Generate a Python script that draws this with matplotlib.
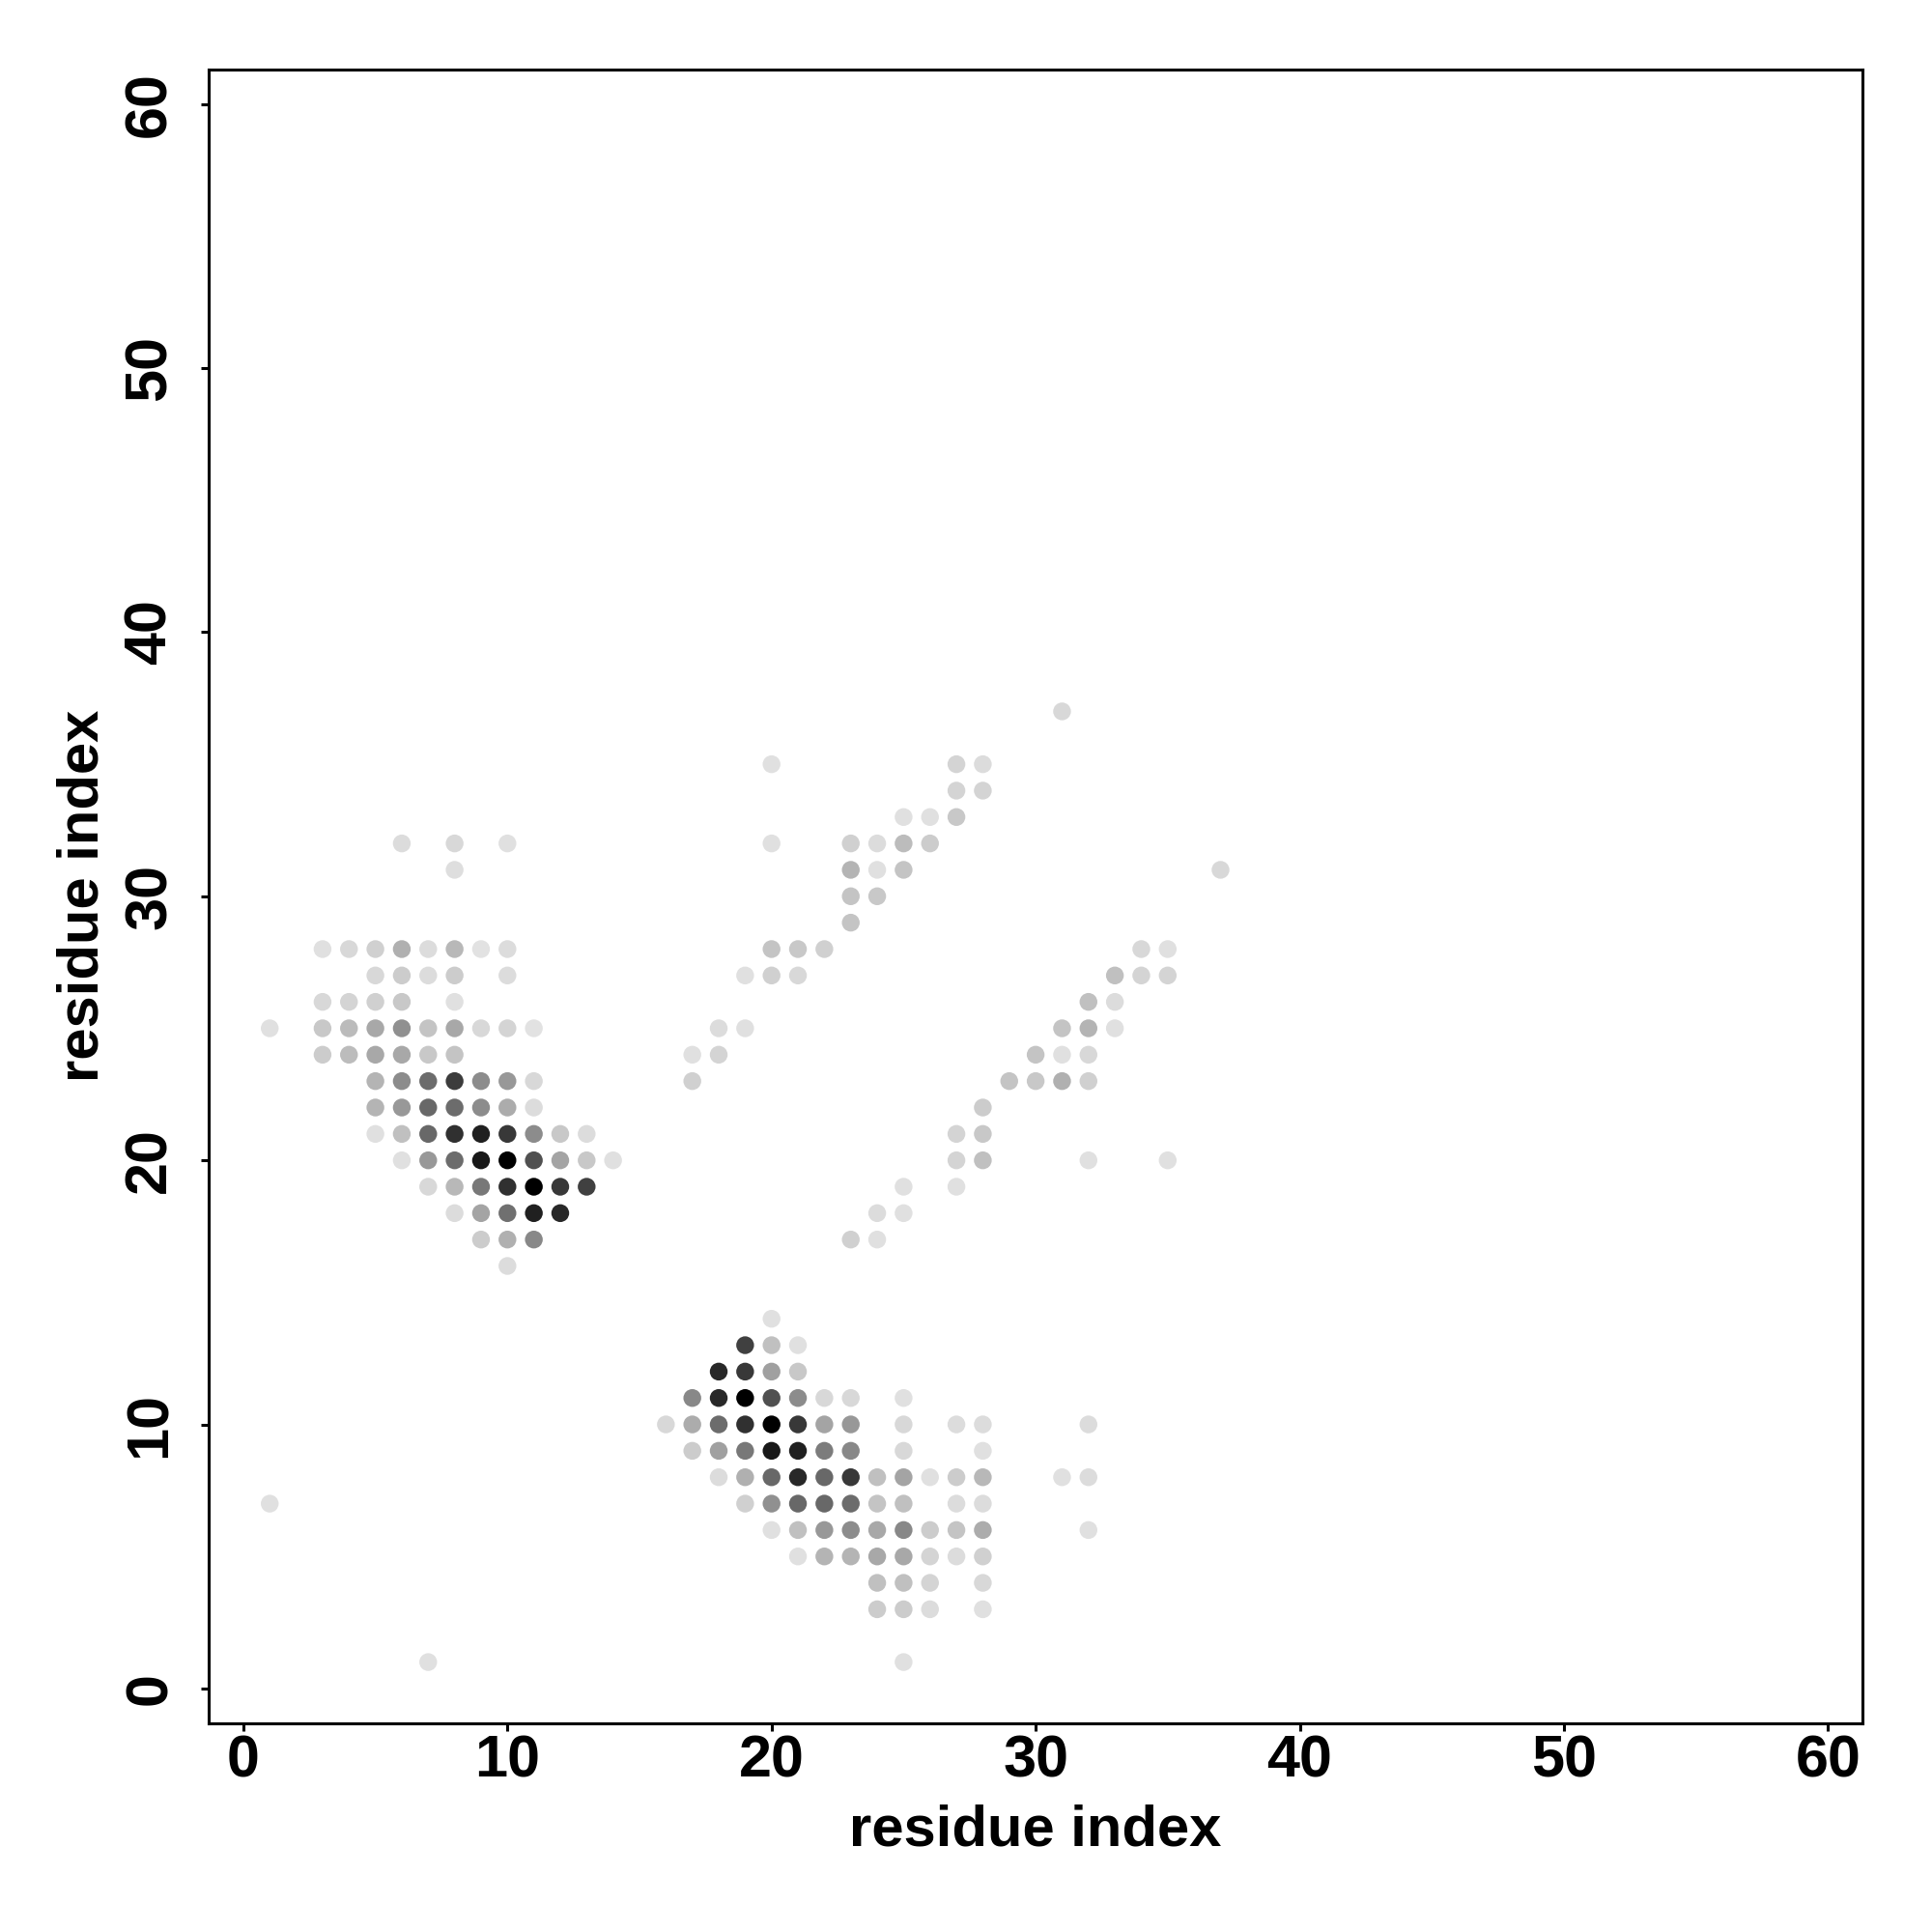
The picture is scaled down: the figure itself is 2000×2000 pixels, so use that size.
import matplotlib
matplotlib.use("Agg")
import matplotlib.pyplot as plt
import numpy as np

# contact map: residue i, residue j, grey level (0 = black, 255 = white)
# lower-left block (rows of j)
block_a_x = [6, 8, 10,
             8,
             3, 4, 5, 6, 7, 8, 9, 10,
             5, 6, 7, 8, 10,
             3, 4, 5, 6, 8,
             3, 4, 5, 6, 7, 8, 9, 10, 11,
             3, 4, 5, 6, 7, 8,
             5, 6, 7, 8, 9, 10, 11,
             5, 6, 7, 8, 9, 10, 11,
             5, 6, 7, 8, 9, 10, 11, 12, 13,
             6, 7, 8, 9, 10, 11, 12, 13, 14,
             7, 8, 9, 10, 11, 12, 13,
             8, 9, 10, 11, 12,
             9, 10, 11,
             10,
             1, 1, 7]
block_a_y = [32, 32, 32,
             31,
             28, 28, 28, 28, 28, 28, 28, 28,
             27, 27, 27, 27, 27,
             26, 26, 26, 26, 26,
             25, 25, 25, 25, 25, 25, 25, 25, 25,
             24, 24, 24, 24, 24, 24,
             23, 23, 23, 23, 23, 23, 23,
             22, 22, 22, 22, 22, 22, 22,
             21, 21, 21, 21, 21, 21, 21, 21, 21,
             20, 20, 20, 20, 20, 20, 20, 20, 20,
             19, 19, 19, 19, 19, 19, 19,
             18, 18, 18, 18, 18,
             17, 17, 17,
             16,
             25, 7, 1]
block_a_grey = [220, 216, 224,
                222,
                224, 216, 208, 176, 220, 184, 226, 220,
                216, 204, 220, 204, 220,
                216, 212, 208, 200, 224,
                200, 187, 168, 144, 196, 168, 216, 212, 226,
                204, 188, 168, 168, 200, 196,
                180, 140, 108, 60, 140, 152, 216,
                180, 152, 104, 108, 140, 172, 220,
                224, 192, 104, 48, 32, 56, 140, 200, 220,
                224, 152, 108, 24, 0, 80, 164, 200, 224,
                216, 184, 120, 48, 0, 56, 64,
                220, 164, 112, 32, 40,
                204, 176, 136,
                220,
                224, 224, 224]

# lower-right block
block_b_x = [20,
             19, 20, 21,
             18, 19, 20, 21,
             17, 18, 19, 20, 21, 22, 23, 25,
             16, 17, 18, 19, 20, 21, 22, 23, 25, 27, 28, 32,
             17, 18, 19, 20, 21, 22, 23, 25, 28,
             18, 19, 20, 21, 22, 23, 24, 25, 26, 27, 28, 31, 32,
             19, 20, 21, 22, 23, 24, 25, 27, 28,
             20, 21, 22, 23, 24, 25, 26, 27, 28, 32,
             21, 22, 23, 24, 25, 26, 27, 28,
             24, 25, 26, 28,
             24, 25, 26, 28,
             25]
block_b_y = [14,
             13, 13, 13,
             12, 12, 12, 12,
             11, 11, 11, 11, 11, 11, 11, 11,
             10, 10, 10, 10, 10, 10, 10, 10, 10, 10, 10, 10,
             9, 9, 9, 9, 9, 9, 9, 9, 9,
             8, 8, 8, 8, 8, 8, 8, 8, 8, 8, 8, 8, 8,
             7, 7, 7, 7, 7, 7, 7, 7, 7,
             6, 6, 6, 6, 6, 6, 6, 6, 6, 6,
             5, 5, 5, 5, 5, 5, 5, 5,
             4, 4, 4, 4,
             3, 3, 3, 3,
             1]
block_b_grey = [224,
                64, 192, 224,
                40, 56, 160, 200,
                136, 40, 0, 80, 140, 216, 216, 224,
                216, 172, 108, 48, 0, 56, 164, 152, 216, 220, 220, 220,
                204, 160, 120, 24, 32, 124, 136, 216, 224,
                220, 176, 104, 40, 104, 56, 192, 164, 224, 204, 184, 224, 220,
                208, 144, 104, 104, 108, 196, 192, 220, 220,
                224, 192, 152, 140, 168, 136, 204, 196, 172, 224,
                224, 180, 180, 168, 168, 212, 220, 208,
                192, 192, 212, 216,
                204, 204, 220, 224,
                224]

# diagonal bands
band_x = [31,
          20, 27, 28,
          27, 28,
          25, 26, 27,
          20, 23, 24, 25, 26,
          23, 24, 25, 37,
          23, 24,
          23,
          20, 21, 22, 34, 35,
          19, 20, 21, 33, 34, 35,
          32, 33,
          18, 19, 31, 32, 33,
          17, 18, 30, 31, 32,
          17, 29, 30, 31, 32,
          28,
          27, 28,
          27, 28, 32, 35,
          25, 27,
          24, 25,
          23, 24]
band_y = [37,
          35, 35, 35,
          34, 34,
          33, 33, 33,
          32, 32, 32, 32, 32,
          31, 31, 31, 31,
          30, 30,
          29,
          28, 28, 28, 28, 28,
          27, 27, 27, 27, 27, 27,
          26, 26,
          25, 25, 25, 25, 25,
          24, 24, 24, 24, 24,
          23, 23, 23, 23, 23,
          22,
          21, 21,
          20, 20, 20, 20,
          19, 19,
          18, 18,
          17, 17]
band_grey = [216,
             224, 212, 220,
             212, 212,
             224, 224, 200,
             224, 208, 220, 188, 204,
             180, 224, 196, 216,
             196, 200,
             196,
             196, 200, 208, 216, 224,
             224, 208, 216, 192, 212, 212,
             192, 220,
             220, 224, 196, 180, 224,
             224, 212, 196, 224, 216,
             208, 196, 200, 176, 208,
             204,
             212, 200,
             212, 192, 224, 224,
             224, 224,
             220, 224,
             208, 224]

ticks = [0, 10, 20, 30, 40, 50, 60]

plt.rcParams["font.family"] = ["Liberation Sans", "DejaVu Sans"]
plt.rcParams["font.weight"] = "bold"

fig = plt.figure(figsize=(10, 10), dpi=200)
ax = fig.add_axes([0.1079, 0.108, 0.8563, 0.8562])

xs = np.array(block_a_x + block_b_x + band_x)
ys = np.array(block_a_y + block_b_y + band_y)
grey = np.array(block_a_grey + block_b_grey + band_grey) / 255.0
colors = np.stack([grey, grey, grey], axis=1)

# light points first so dark ones sit on top
order = np.argsort(-grey)
ax.scatter(xs[order], ys[order], s=44, c=colors[order], edgecolors="none")

ax.set_xlim(-1.32, 61.32)
ax.set_ylim(-1.32, 61.32)
ax.set_xticks(ticks)
ax.set_yticks(ticks)

for sp in ax.spines.values():
    sp.set_linewidth(1.1)
ax.tick_params(axis="both", length=2.9, width=1.1, labelsize=22)
ax.tick_params(axis="x", pad=1.2)
ax.tick_params(axis="y", pad=8.3, labelrotation=90)
for lab in ax.get_yticklabels():
    lab.set_verticalalignment("center")

ax.set_xlabel("residue index", fontsize=21.5, fontweight="bold")
ax.set_ylabel("residue index", fontsize=21.5, fontweight="bold")
ax.xaxis.set_label_coords(0.5, -0.049)
ax.yaxis.set_label_coords(-0.06, 0.5)

fig.savefig("out.png", dpi=200, facecolor="white")
